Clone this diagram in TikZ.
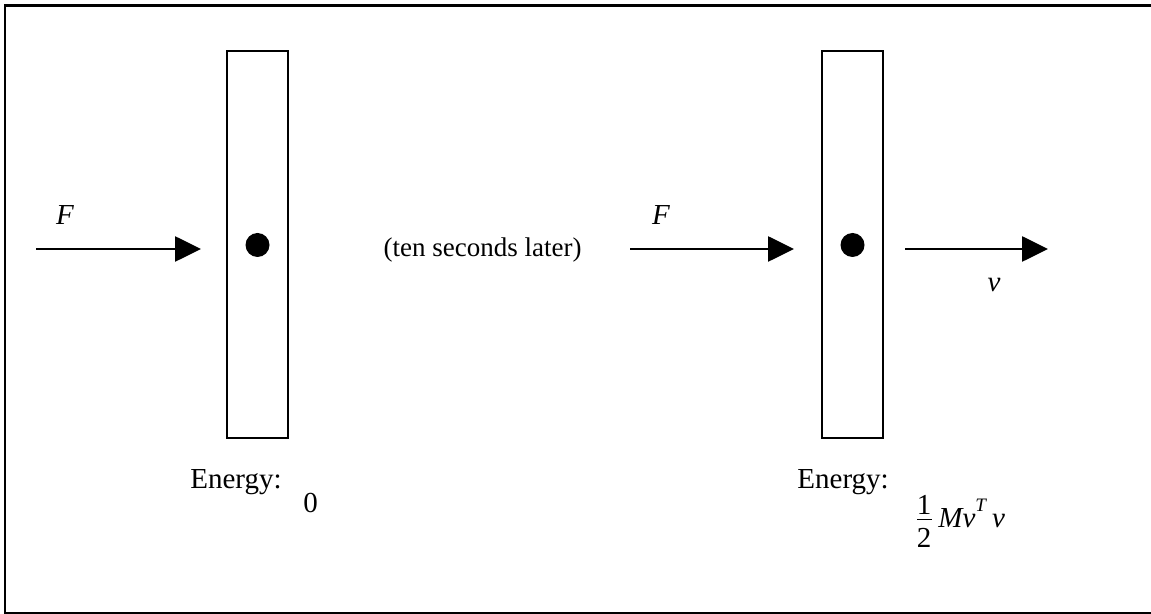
\documentclass[tikz,border=0pt]{standalone}
\usepackage{fontspec}
\setmainfont{Liberation Serif}
\usetikzlibrary{arrows.meta}
\tikzset{
  frame/.style={line width=1.35pt},
  bar/.style={draw, line width=1.3pt},
  dot/.style={fill=black},
  force/.style={line width=1.35pt, -{Triangle[length=13pt,width=12.5pt]}},
  lbl/.style={inner sep=0pt, font=\fontsize{14.5}{17}\selectfont},
}
\begin{document}
\begin{tikzpicture}[x=0.5pt,y=-0.5pt]
\useasboundingbox (0,0) rectangle (1151,614);
\clip (0,0) rectangle (1151,614);
\draw[frame] (5,5.3) rectangle (1160,613.5);
% bars
\draw[bar] (227,51) rectangle (288,438);
\draw[bar] (822,51) rectangle (883,438);
\coordinate (b1) at (257.5,245);
\coordinate (b2) at (852.5,245);
\fill[dot] (b1) circle (6pt);
\fill[dot] (b2) circle (6pt);
% arrows
\coordinate (a1s) at (36,249);
\coordinate (a1e) at (201,249);
\coordinate (a2s) at (630,249);
\coordinate (a2e) at (794,249);
\coordinate (a3s) at (905,249);
\coordinate (a3e) at (1048,249);
\draw[force] (a1s) -- (a1e);
\draw[force] (a2s) -- (a2e);
\draw[force] (a3s) -- (a3e);
% labels
\node[lbl, anchor=base] (F1) at (65,225) {\textit{F}};
\node[lbl, anchor=base] (F2) at (661,225) {\textit{F}};
\node[lbl, anchor=base] (v) at (994,292) {\textit{v}};
\node[lbl, anchor=base east, font=\fontsize{13.5}{16}\selectfont] (mid) at (582,257) {(ten seconds later)};
\node[lbl, anchor=base west] (E1) at (190,488) {Energy:};
\node[lbl, anchor=base west] (z) at (303,512) {0};
\node[lbl, anchor=base west] (E2) at (797,488) {Energy:};
\node[lbl, anchor=base] (n) at (924,515) {1};
\node[lbl, anchor=base] (d) at (924,547) {2};
\draw[line width=0.6pt] (917,519.5) -- (932,519.5);
\node[lbl, anchor=base west] (mv) at (938,527) {\textit{Mv}\raisebox{1.15ex}{\fontsize{9.5}{10}\selectfont\textit{T}}\hspace{2.5pt}\textit{v}};
\end{tikzpicture}
\end{document}
